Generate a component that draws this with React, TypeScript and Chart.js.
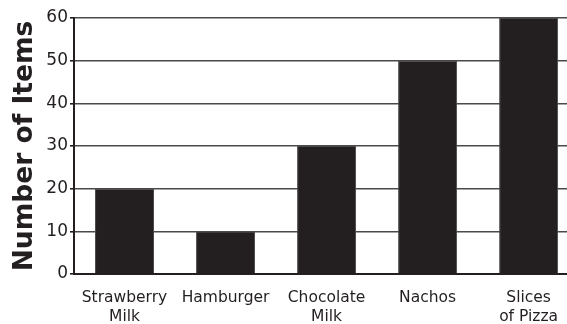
import React, { useEffect, useRef } from "react";
import { Chart, registerables } from "chart.js";

Chart.register(...registerables);

const categories: string[][] = [
  ["Strawberry", "Milk"],
  ["Hamburger"],
  ["Chocolate", "Milk"],
  ["Nachos"],
  ["Slices", "of Pizza"],
];
const itemCounts: number[] = [20, 10, 30, 50, 60];
const yTicks: number[] = [0, 10, 20, 30, 40, 50, 60];
const yTitle = "Number of Items";

export default function App() {
  const ref = useRef<HTMLCanvasElement | null>(null);
  useEffect(() => {
    if (!ref.current) return;
    const chart = new Chart(ref.current, {
      type: "bar",
      data: {
        datasets: [
          {
            data: itemCounts.map((v, i) => ({ x: i, y: v })),
            backgroundColor: "#231f20",
            borderColor: "#4d4a4b",
            borderWidth: 1,
            borderSkipped: "bottom",
            barPercentage: 0.584,
            categoryPercentage: 1,
          },
        ],
      },
      options: {
        animation: false,
        responsive: false,
        maintainAspectRatio: false,
        layout: { padding: { top: 18, right: 0, left: 0, bottom: 0 } },
        plugins: { legend: { display: false }, tooltip: { enabled: false } },
        scales: {
          x: {
            type: "linear",
            offset: false,
            min: -0.5,
            max: 4.38,
            afterBuildTicks: (scale: any) => {
              scale.ticks = categories.map((_, i) => ({ value: i }));
            },
            afterFit: (scale: any) => {
              scale.height = 50;
              scale.paddingLeft = 0;
              scale.paddingRight = 0;
            },
            grid: { display: false, drawTicks: false },
            border: { display: true, color: "#231f20", width: 2 },
            ticks: {
              autoSkip: false,
              maxRotation: 0,
              padding: 15,
              color: "#231f20",
              font: { family: "DejaVu Sans", size: 15.5, lineHeight: 1.2 },
              callback: (value: any) => categories[Math.round(Number(value))] ?? "",
            },
          },
          y: {
            min: 0,
            max: 60,
            afterBuildTicks: (scale: any) => {
              scale.ticks = yTicks.map((v) => ({ value: v }));
            },
            afterFit: (scale: any) => {
              scale.width = 74;
              scale.paddingTop = 0;
              scale.paddingBottom = 0;
            },
            grid: {
              color: "#4a4a4a",
              lineWidth: 1.6,
              tickLength: 4,
              tickColor: "#231f20",
            },
            border: { display: true, color: "#231f20", width: 2 },
            ticks: {
              padding: 2,
              color: "#231f20",
              font: { family: "DejaVu Sans", size: 17 },
            },
            title: {
              display: true,
              text: yTitle,
              color: "#231f20",
              padding: { top: 9, bottom: 0 },
              font: { family: "DejaVu Sans", size: 26.5, weight: "bold" },
            },
          },
        },
      },
    } as any);
    return () => chart.destroy();
  }, []);
  return (
    <div style={{ position: "fixed", left: 0, top: 0, width: 567, height: 324, background: "#fff" }}>
      <canvas ref={ref} width={567} height={324} style={{ width: 567, height: 324, display: "block" }} />
    </div>
  );
}
